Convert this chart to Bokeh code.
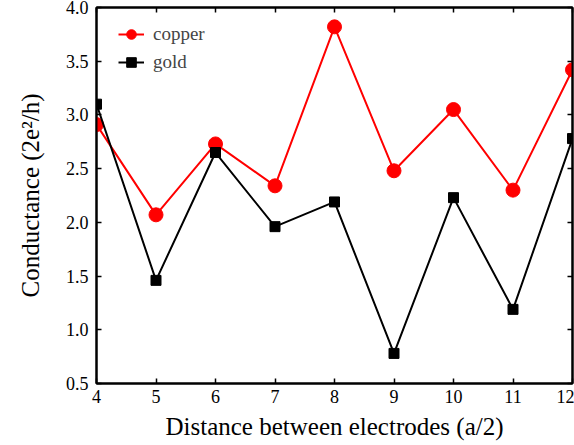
from bokeh.plotting import figure
from bokeh.models import LinearAxis, Range1d, FixedTicker, Legend, LegendItem, CustomJSTickFormatter
from bokeh.embed import file_html
from bokeh.resources import INLINE

distance = [4, 5, 6, 7, 8, 9, 10, 11, 12]
copper = [2.91, 2.07, 2.73, 2.34, 3.82, 2.48, 3.05, 2.30, 3.42]
gold = [3.10, 1.46, 2.65, 1.96, 2.19, 0.78, 2.23, 1.19, 2.78]
x_ticks = [4, 5, 6, 7, 8, 9, 10, 11, 12]
y_ticks = [0.5, 1.0, 1.5, 2.0, 2.5, 3.0, 3.5, 4.0]

FONT = "Liberation Serif"

p = figure(width=574, height=445, output_backend="svg", toolbar_location=None,
           x_range=Range1d(4, 12), y_range=Range1d(0.5, 4.0),
           frame_width=476, frame_height=376,
           min_border_left=96, min_border_right=2, min_border_top=7, min_border_bottom=62)
p.background_fill_color = "white"
p.border_fill_color = "white"
p.grid.visible = False
p.outline_line_color = "black"
p.outline_line_width = 2

def style(ax):
    ax.axis_line_width = 2
    ax.axis_line_color = "black"
    ax.major_tick_in = 5
    ax.major_tick_out = 0
    ax.major_tick_line_width = 1.5
    ax.minor_tick_line_color = None
    ax.major_label_text_font = FONT
    ax.major_label_text_font_size = "18px"
    ax.major_label_text_color = "black"
    ax.axis_label_text_font = FONT
    ax.axis_label_text_font_style = "normal"
    ax.axis_label_text_font_size = "25px"
    ax.axis_label_text_color = "black"

p.xaxis.ticker = FixedTicker(ticks=x_ticks)
p.yaxis.ticker = FixedTicker(ticks=y_ticks)
p.yaxis.formatter = CustomJSTickFormatter(code="return tick.toFixed(1);")
p.xaxis.axis_label = "Distance between electrodes (a/2)"
p.yaxis.axis_label = "Conductance (2e\u00b2/h)"
style(p.xaxis[0])
style(p.yaxis[0])
p.xaxis.major_label_standoff = 6
p.yaxis.major_label_standoff = 8
p.xaxis.axis_label_standoff = 7
p.yaxis.axis_label_standoff = 19

top = LinearAxis(ticker=FixedTicker(ticks=x_ticks),
                 formatter=CustomJSTickFormatter(code="return '';"))
right = LinearAxis(ticker=FixedTicker(ticks=y_ticks),
                   formatter=CustomJSTickFormatter(code="return '';"))
for ax in (top, right):
    style(ax)
    ax.major_label_standoff = 0
p.add_layout(top, "above")
p.add_layout(right, "right")

cl = p.line(distance, copper, line_color="red", line_width=2)
cm = p.scatter(distance, copper, marker="circle", size=14, fill_color="red", line_color="red")
gl = p.line(distance, gold, line_color="black", line_width=2)
gm = p.scatter(distance, gold, marker="square", size=10, fill_color="black", line_color="black")

legend = Legend(items=[LegendItem(label="copper", renderers=[cl, cm]),
                       LegendItem(label="gold", renderers=[gl, gm])],
                location=(22, 309))
legend.border_line_color = None
legend.background_fill_alpha = 0
legend.label_text_font = FONT
legend.label_text_font_size = "19px"
legend.glyph_width = 26
legend.glyph_height = 24
legend.label_height = 24
legend.label_standoff = 9
legend.spacing = 4
legend.margin = 0
legend.padding = 8
p.add_layout(legend, "center")

open("out.html", "w").write(file_html(p, INLINE))
